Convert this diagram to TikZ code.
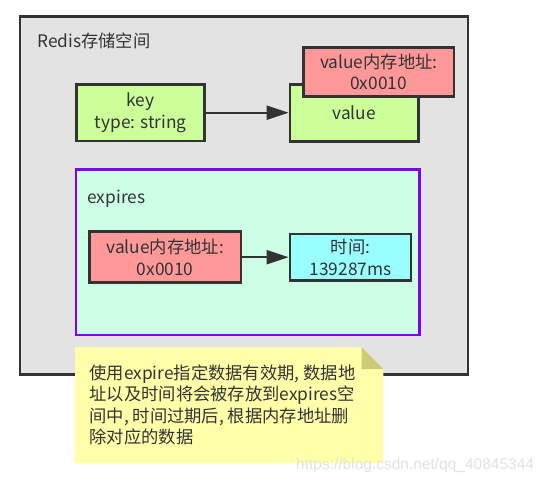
\documentclass[tikz,border=0pt]{standalone}
\usepackage{fontspec}
\setmainfont{Noto Sans CJK SC}
\newfontfamily\wmfont{Liberation Sans}
\usetikzlibrary{arrows.meta}
\definecolor{ink}{HTML}{333333}
\definecolor{outerfill}{HTML}{E3E3E3}
\definecolor{greenfill}{HTML}{CCFF99}
\definecolor{redfill}{HTML}{FF9999}
\definecolor{cyanfill}{HTML}{99FFFF}
\definecolor{mintfill}{HTML}{CCFFE6}
\definecolor{purpleline}{HTML}{8000FF}
\definecolor{notefill}{HTML}{FFFFAA}
\definecolor{notefold}{HTML}{CCCC77}
\definecolor{wmark}{HTML}{E2E2E2}
\begin{document}
\begin{tikzpicture}[x=1pt,y=-1pt,
  txt/.style={text=ink, font=\fontsize{17.3}{21.5}\selectfont, inner sep=0pt},
  box/.style={txt, draw=ink, line width=2.8pt, align=center},
  conn/.style={draw=ink, line width=2.2pt, -{Triangle[length=22pt,width=14pt]}},
]
\useasboundingbox[fill=white] (0,0) rectangle (549,483);
% outer storage space
\node[draw=ink, fill=outerfill, line width=2.5pt, minimum width=448pt, minimum height=358pt, inner sep=0pt] (redis) at (244,195.5) {};
\node[txt, anchor=base west] (redislabel) at (37,47) {Redis存储空间};
% key / value
\node[box, fill=greenfill, minimum width=128pt, minimum height=56.7pt] (key) at (140.7,112.7) {key\\type: string};
\node[box, fill=greenfill, minimum width=128.3pt, minimum height=57.4pt] (value) at (354.2,113) {value};
\node[box, fill=redfill, minimum width=150.7pt, minimum height=49.4pt] (addr1) at (378.7,72) {value内存地址:\\0x0010};
\draw[conn] (key.east) -- (value.west |- key.east);
% expires
\node[draw=purpleline, fill=mintfill, line width=2.7pt, minimum width=343.3pt, minimum height=165.7pt, inner sep=0pt] (expires) at (247.7,252.2) {};
\node[txt, anchor=base west] (expireslabel) at (87.3,203) {expires};
\node[box, fill=redfill, minimum width=151.7pt, minimum height=51pt] (addr2) at (165.2,257.2) {value内存地址:\\0x0010};
\node[box, fill=cyanfill, minimum width=121pt, minimum height=46.7pt] (time) at (350.5,257.3) {时间:\\139287ms};
\draw[conn] (addr2.east) -- (time.west |- addr2.east);
% note
\fill[notefill] (75,347.3) -- (361.7,347.3) -- (383.3,369) -- (383.3,463.3) -- (75,463.3) -- cycle;
\fill[notefold] (361.7,347.3) -- (383.3,369) -- (361.7,369) -- cycle;
\node[txt, anchor=base west, align=left] (note) at (89.3,443.5) {使用expire指定数据有效期, 数据地\\址以及时间将会被存放到expires空\\间中, 时间过期后, 根据内存地址删\\除对应的数据};
% watermark
\node[anchor=base west, text=wmark, font=\wmfont\fontsize{15.5}{15.5}\selectfont, inner sep=0pt] (wm) at (296,469) {https://blog.csdn.net/qq\_40845344};
\end{tikzpicture}
\end{document}
